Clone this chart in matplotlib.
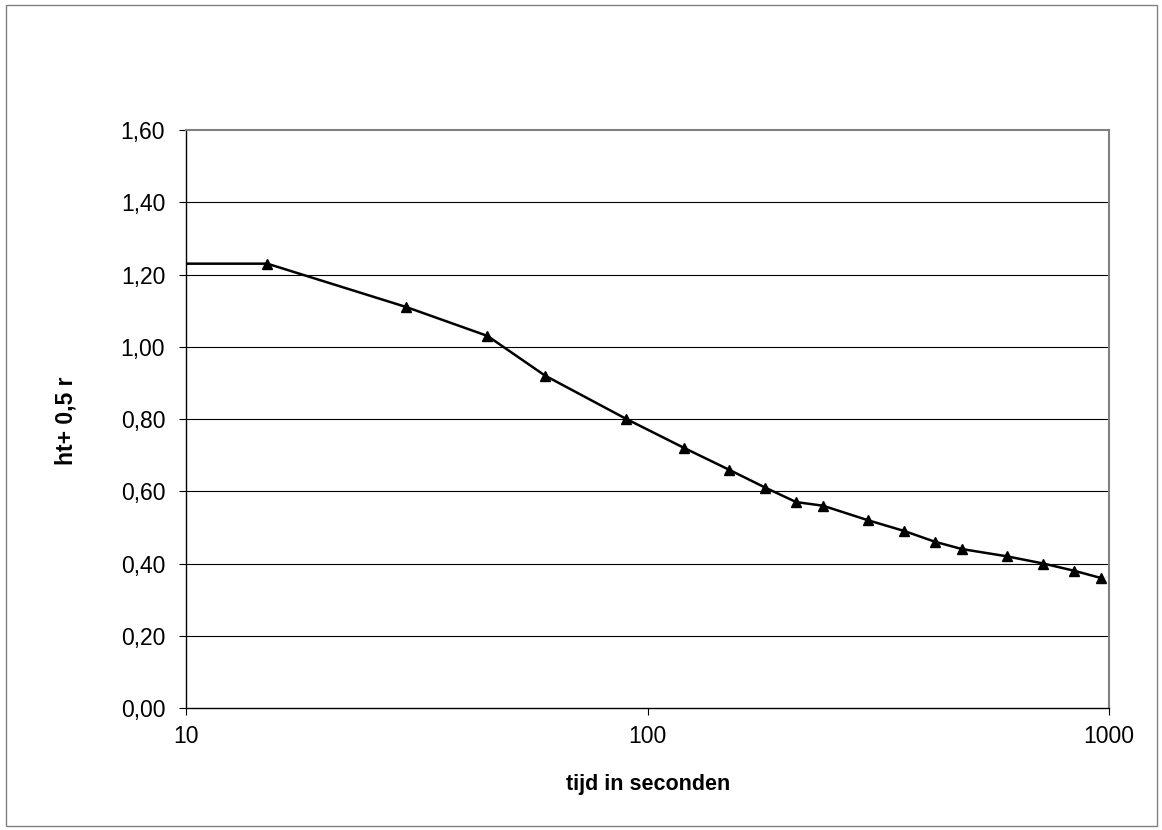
import matplotlib
matplotlib.use("Agg")
import matplotlib.pyplot as plt
from matplotlib.patches import Rectangle
from matplotlib.ticker import FixedLocator, FuncFormatter, NullLocator

plt.rcParams['font.family'] = ['Liberation Sans', 'DejaVu Sans']

# Measurement series: time (s) and ht + 0.5 r
tijd = [1, 15, 30, 45, 60, 90, 120, 150, 180, 210, 240, 300, 360,
        420, 480, 600, 720, 840, 960]
waarde = [1.23, 1.23, 1.11, 1.03, 0.92, 0.80, 0.72, 0.66, 0.61, 0.57,
          0.56, 0.52, 0.49, 0.46, 0.44, 0.42, 0.40, 0.38, 0.36]

x_ticks = [10, 100, 1000]
y_ticks = [0.0, 0.2, 0.4, 0.6, 0.8, 1.0, 1.2, 1.4, 1.6]

W, H = 1162, 830
fig = plt.figure(figsize=(W / 100, H / 100), dpi=100)
fig.patch.set_facecolor('white')

# Outer chart frame
fig.patches.append(Rectangle((6 / W, 4 / H), 1151 / W, 821 / H,
                             transform=fig.transFigure, fill=False,
                             edgecolor='#808080', linewidth=1.0))

ax = fig.add_axes([186 / W, 1 - 708 / H, 923 / W, 578 / H])
ax.set_xscale('log')
ax.set_xlim(10, 1000)
ax.set_ylim(0, 1.6)

for y in y_ticks[1:-1]:
    ax.axhline(y, color='black', linewidth=0.8, zorder=1)

ax.plot(tijd, waarde, color='black', linewidth=1.8, marker='^',
        markersize=7, markerfacecolor='black', markeredgecolor='black',
        zorder=3)

ax.xaxis.set_major_locator(FixedLocator(x_ticks))
ax.xaxis.set_minor_locator(NullLocator())
ax.xaxis.set_major_formatter(FuncFormatter(lambda v, p: f"{v:.0f}"))
ax.yaxis.set_major_locator(FixedLocator(y_ticks))
ax.yaxis.set_major_formatter(FuncFormatter(lambda v, p: f"{v:.2f}".replace('.', ',')))

ax.tick_params(axis='both', direction='out', length=5, width=0.8,
               colors='black', labelsize=16.5)
ax.tick_params(axis='x', pad=7)
ax.tick_params(axis='y', pad=10)

for side in ('left', 'bottom'):
    ax.spines[side].set_color('black')
    ax.spines[side].set_linewidth(1.0)
for side in ('top', 'right'):
    ax.spines[side].set_color('#808080')
    ax.spines[side].set_linewidth(1.5)

# Axis titles
fig.text(648 / W, 1 - 790 / H, 'tijd in seconden', fontsize=15.5,
         fontweight='bold', ha='center', va='baseline')
fig.text(66 / W, 1 - 421 / H, 'ht+ 0,5 r', fontsize=16.5,
         fontweight='bold', ha='center', va='center', rotation=90)

fig.savefig('out.png', dpi=100, facecolor='white')
